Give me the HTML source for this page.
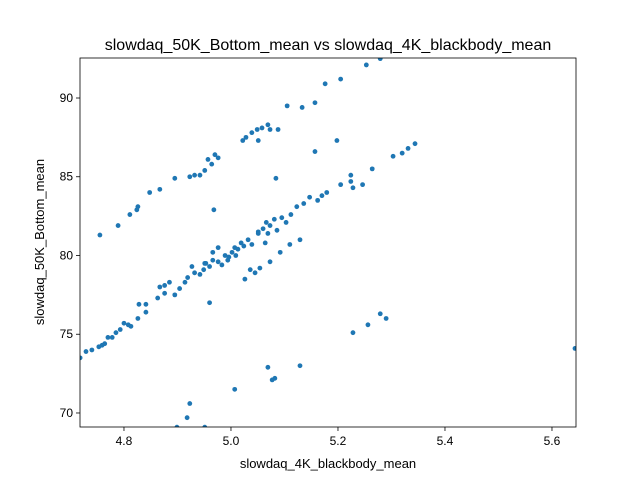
<!DOCTYPE html>
<html><head><meta charset="utf-8"><style>
html,body{margin:0;padding:0;background:#fff;}
svg{display:block;font-family:"Liberation Sans","DejaVu Sans",sans-serif;}
</style></head><body>
<svg id="chart" width="640" height="480" viewBox="0 0 640 480">
<rect width="640" height="480" fill="#fff"/>
<text x="328" y="50" text-anchor="middle" font-size="16">slowdaq_50K_Bottom_mean vs slowdaq_4K_blackbody_mean</text>
<g id="xticks"></g>
<g id="yticks"></g>
<g id="points"></g>
<rect x="80" y="58" width="496" height="369" fill="none" stroke="#000" stroke-width="0.8"/>
<text x="328" y="468" text-anchor="middle" font-size="13">slowdaq_4K_blackbody_mean</text>
<text transform="translate(44,242) rotate(-90)" text-anchor="middle" font-size="13">slowdaq_50K_Bottom_mean</text>
</svg>
<script>
const xs=[4.718,4.729,4.740,4.753,4.759,4.764,4.770,4.778,4.785,4.793,4.800,4.808,4.813,4.826,4.841,4.841,4.828,4.863,4.867,4.876,4.885,4.876,4.895,4.904,4.914,4.919,4.927,4.932,4.942,4.949,4.953,4.960,4.966,4.976,4.983,4.989,4.996,5.002,5.007,5.013,5.019,5.024,5.032,5.039,5.051,5.060,5.066,5.073,5.081,5.086,5.095,5.103,5.112,5.123,5.136,5.147,5.162,5.170,5.179,4.976,4.966,4.951,4.994,5.009,5.051,5.069,5.064,5.054,5.073,5.092,5.110,5.129,5.036,5.026,5.045,
4.923,4.932,4.942,4.951,4.957,4.964,4.970,4.976,4.968,5.022,5.028,5.039,5.049,5.058,5.069,5.073,5.088,5.051,5.105,5.133,5.157,5.176,5.205,5.253,5.279,
4.895,4.867,4.848,4.824,4.826,4.811,4.789,4.755,5.084,5.157,5.198,
5.205,5.224,5.224,5.228,5.246,5.264,5.303,5.320,5.331,5.344,
5.228,5.256,5.279,5.290,5.643,5.069,5.077,5.082,5.129,5.007,4.960,4.923,4.918,4.899,4.951];
const ys=[73.5,73.9,74.0,74.2,74.3,74.4,74.8,74.8,75.1,75.3,75.7,75.6,75.5,76.0,76.4,76.9,76.9,77.3,78.0,78.1,78.3,77.6,77.5,77.9,78.3,78.6,79.3,78.9,78.8,79.1,79.5,79.3,79.7,79.6,79.4,80.0,79.9,80.2,80.5,80.4,80.8,80.6,81.0,80.7,81.5,81.7,82.1,81.9,82.3,81.6,82.4,82.1,82.6,83.1,83.3,83.7,83.5,83.8,84.0,80.5,80.2,79.5,79.7,80.0,81.4,81.4,80.8,79.2,79.6,80.2,80.7,81.0,79.1,78.5,78.9,
85.0,85.1,85.1,85.4,86.1,85.8,86.4,86.2,82.9,87.3,87.5,87.8,88.0,88.1,88.3,88.0,88.0,87.3,89.5,89.4,89.7,90.9,91.2,92.1,92.5,
84.9,84.2,84.0,82.9,83.1,82.6,81.9,81.3,84.9,86.6,87.3,
84.5,84.7,85.1,84.3,84.5,85.5,86.3,86.5,86.8,87.1,
75.1,75.6,76.3,76.0,74.1,72.9,72.1,72.2,73.0,71.5,77.0,70.6,69.7,69.1,69.1];
const xTicks=[4.8,5.0,5.2,5.4,5.6];
const xTickLabels=["4.8","5.0","5.2","5.4","5.6"];
const yTicks=[70,75,80,85,90];
const yTickLabels=["70","75","80","85","90"];
const X0=4.7178,X1=5.6449,Y0=69.11,Y1=92.54;
const L=80,R=576,T=58,B=427;
const sx=v=>L+(v-X0)/(X1-X0)*(R-L);
const sy=v=>B-(v-Y0)/(Y1-Y0)*(B-T);
const NS="http://www.w3.org/2000/svg";
const pg=document.getElementById('points');
const clip=document.createElementNS(NS,'clipPath');clip.id='cp';
const cr=document.createElementNS(NS,'rect');cr.setAttribute('x',L);cr.setAttribute('y',T);cr.setAttribute('width',R-L);cr.setAttribute('height',B-T);
clip.appendChild(cr);document.getElementById('chart').appendChild(clip);
pg.setAttribute('clip-path','url(#cp)');
for(let i=0;i<xs.length;i++){
 const c=document.createElementNS(NS,'circle');
 c.setAttribute('cx',sx(xs[i]));c.setAttribute('cy',sy(ys[i]));c.setAttribute('r',2.4);c.setAttribute('fill','#1f77b4');
 
 
 pg.appendChild(c);
}
const xg=document.getElementById('xticks');
xTicks.forEach((v,i)=>{
 const l=document.createElementNS(NS,'line');
 l.setAttribute('x1',sx(v));l.setAttribute('x2',sx(v));l.setAttribute('y1',B);l.setAttribute('y2',B+4);l.setAttribute('stroke','#000');l.setAttribute('stroke-width','0.8');
 
 
 xg.appendChild(l);
 const t=document.createElementNS(NS,'text');
 t.setAttribute('x',sx(v));t.setAttribute('y',B+18);t.setAttribute('text-anchor','middle');t.setAttribute('font-size','12');t.textContent=xTickLabels[i];
 
 
 xg.appendChild(t);
});
const yg=document.getElementById('yticks');
yTicks.forEach((v,i)=>{
 const l=document.createElementNS(NS,'line');
 l.setAttribute('x1',L-4);l.setAttribute('x2',L);l.setAttribute('y1',sy(v));l.setAttribute('y2',sy(v));l.setAttribute('stroke','#000');l.setAttribute('stroke-width','0.8');
 
 
 yg.appendChild(l);
 const t=document.createElementNS(NS,'text');
 t.setAttribute('x',L-7);t.setAttribute('y',sy(v)+4);t.setAttribute('text-anchor','end');t.setAttribute('font-size','12');t.textContent=yTickLabels[i];
 
 
 yg.appendChild(t);
});
</script>
</body></html>
